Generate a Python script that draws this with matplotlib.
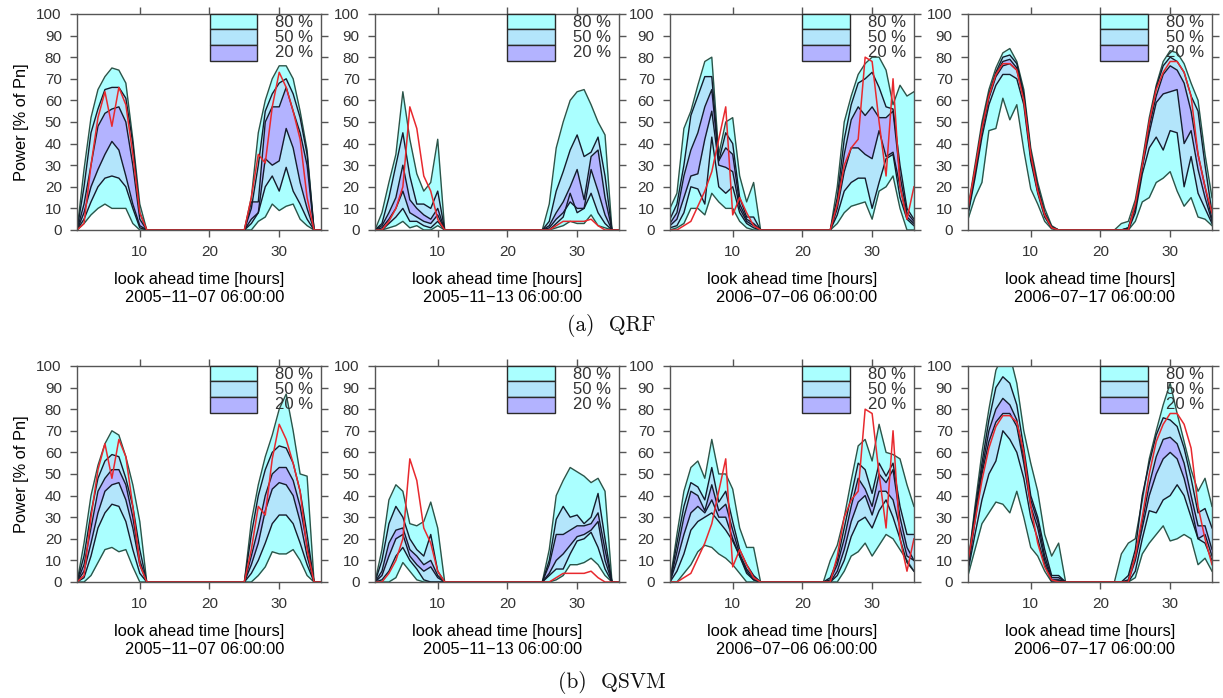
import matplotlib
matplotlib.use("Agg")
import matplotlib.pyplot as plt
from matplotlib.patches import Rectangle

plt.rcParams['font.family'] = ['Liberation Sans', 'DejaVu Sans']
plt.rcParams['text.color'] = '#333333'

# look ahead hours 1..36
# every series below: hours 1-14 | hours 15-22 (night) | hours 23-36
hours = list(range(1, 37))

# observed power, one series per forecast date
obs_1107 = [0, 3, 30, 52, 64, 48, 66, 58, 35, 8, 0, 0, 0, 0,  0, 0, 0, 0, 0, 0, 0, 0,  0, 0, 0, 15, 35, 31, 57, 73, 66, 55, 42, 15, 0, 0]
obs_1113 = [0, 0, 4, 10, 20, 57, 47, 25, 18, 5, 0, 0, 0, 0,  0, 0, 0, 0, 0, 0, 0, 0,  0, 0, 0, 0, 2, 4, 4, 4, 4, 5, 2, 0, 0, 0]
obs_0706 = [0, 0, 2, 4, 11, 18, 27, 42, 57, 7, 15, 8, 2, 0,  0, 0, 0, 0, 0, 0, 0, 0,  0, 0, 12, 30, 38, 42, 80, 78, 50, 25, 70, 20, 5, 20]
obs_0717 = [10, 28, 47, 62, 72, 77, 77, 74, 60, 35, 18, 7, 1, 0,  0, 0, 0, 0, 0, 0, 0, 0,  0, 0, 12, 30, 50, 65, 73, 78, 78, 73, 62, 35, 20, 8]

# QRF quantiles (10, 25, 40, 60, 75, 90 %)
qrf_1107_q10 = [0, 3, 7, 10, 12, 10, 10, 10, 3, 0, 0, 0, 0, 0,  0, 0, 0, 0, 0, 0, 0, 0,  0, 0, 0, 0, 4, 6, 12, 9, 11, 12, 5, 2, 0, 0]
qrf_1107_q25 = [0, 5, 13, 20, 24, 25, 24, 20, 10, 1, 0, 0, 0, 0,  0, 0, 0, 0, 0, 0, 0, 0,  0, 0, 0, 3, 8, 20, 25, 18, 29, 18, 12, 5, 0, 0]
qrf_1107_q40 = [0, 8, 20, 28, 35, 41, 37, 25, 12, 2, 0, 0, 0, 0,  0, 0, 0, 0, 0, 0, 0, 0,  0, 0, 0, 5, 8, 33, 30, 32, 47, 38, 22, 10, 0, 0]
qrf_1107_q60 = [0, 12, 30, 48, 54, 56, 57, 50, 30, 5, 0, 0, 0, 0,  0, 0, 0, 0, 0, 0, 0, 0,  0, 0, 0, 13, 13, 50, 57, 57, 66, 55, 45, 30, 0, 0]
qrf_1107_q75 = [0, 20, 45, 56, 65, 66, 66, 61, 40, 8, 0, 0, 0, 0,  0, 0, 0, 0, 0, 0, 0, 0,  0, 0, 0, 10, 30, 55, 63, 68, 70, 63, 52, 35, 0, 0]
qrf_1107_q90 = [0, 28, 52, 65, 71, 75, 74, 68, 42, 12, 0, 0, 0, 0,  0, 0, 0, 0, 0, 0, 0, 0,  0, 0, 0, 15, 45, 60, 70, 76, 76, 70, 55, 37, 0, 0]

qrf_1113_q10 = [0, 0, 1, 2, 4, 1, 2, 0, 0, 2, 0, 0, 0, 0,  0, 0, 0, 0, 0, 0, 0, 0,  0, 0, 0, 0, 1, 2, 4, 3, 3, 7, 2, 1, 0, 0]
qrf_1113_q25 = [0, 0, 3, 6, 10, 4, 4, 2, 1, 4, 0, 0, 0, 0,  0, 0, 0, 0, 0, 0, 0, 0,  0, 0, 0, 0, 3, 6, 17, 8, 10, 17, 8, 3, 0, 0]
qrf_1113_q40 = [0, 1, 5, 10, 18, 8, 6, 4, 3, 7, 0, 0, 0, 0,  0, 0, 0, 0, 0, 0, 0, 0,  0, 0, 0, 1, 5, 8, 13, 10, 10, 28, 18, 7, 0, 0]
qrf_1113_q60 = [0, 2, 8, 15, 30, 14, 10, 7, 5, 10, 0, 0, 0, 0,  0, 0, 0, 0, 0, 0, 0, 0,  0, 0, 0, 2, 8, 13, 20, 28, 14, 34, 37, 15, 0, 0]
qrf_1113_q75 = [0, 3, 15, 30, 45, 25, 12, 12, 10, 18, 0, 0, 0, 0,  0, 0, 0, 0, 0, 0, 0, 0,  0, 0, 0, 4, 18, 27, 37, 44, 34, 36, 43, 25, 0, 0]
qrf_1113_q90 = [0, 8, 22, 35, 64, 42, 26, 18, 22, 42, 0, 0, 0, 0,  0, 0, 0, 0, 0, 0, 0, 0,  0, 0, 0, 12, 38, 50, 60, 64, 65, 58, 50, 44, 0, 0]

qrf_0706_q10 = [0, 1, 3, 10, 10, 7, 17, 13, 10, 10, 4, 1, 0, 0,  0, 0, 0, 0, 0, 0, 0, 0,  0, 0, 3, 8, 11, 12, 13, 5, 18, 20, 25, 10, 0, 0]
qrf_0706_q25 = [1, 2, 8, 20, 19, 12, 43, 20, 17, 20, 8, 3, 1, 0,  0, 0, 0, 0, 0, 0, 0, 0,  0, 0, 7, 18, 22, 24, 24, 10, 22, 33, 35, 15, 5, 2]
qrf_0706_q40 = [2, 5, 15, 25, 26, 42, 55, 30, 29, 27, 10, 4, 2, 0,  0, 0, 0, 0, 0, 0, 0, 0,  0, 0, 10, 27, 38, 38, 35, 33, 46, 34, 36, 20, 6, 3]
qrf_0706_q60 = [3, 8, 25, 37, 45, 57, 65, 32, 38, 35, 12, 5, 3, 0,  0, 0, 0, 0, 0, 0, 0, 0,  0, 0, 12, 35, 51, 57, 53, 57, 52, 52, 55, 25, 8, 4]
qrf_0706_q75 = [5, 12, 30, 53, 62, 71, 71, 32, 45, 40, 15, 6, 6, 0,  0, 0, 0, 0, 0, 0, 0, 0,  0, 0, 15, 42, 58, 68, 70, 73, 66, 57, 56, 30, 10, 5]
qrf_0706_q90 = [10, 17, 47, 55, 67, 78, 80, 35, 50, 52, 25, 13, 22, 0,  0, 0, 0, 0, 0, 0, 0, 0,  0, 0, 20, 50, 62, 72, 77, 80, 80, 74, 58, 67, 62, 64]

qrf_0717_q10 = [5, 15, 22, 46, 47, 61, 51, 58, 37, 19, 12, 4, 0.5, 0,  0, 0, 0, 0, 0, 0, 0, 0,  0, 0, 4, 13, 15, 22, 24, 27, 18, 11, 15, 6, 5, 2]
qrf_0717_q25 = [7, 24, 43, 58, 67, 72, 72, 70, 58, 32, 17, 6, 1, 0,  0, 0, 0, 0, 0, 0, 0, 0,  0, 0, 8, 26, 38, 43, 37, 46, 45, 20, 34, 17, 10, 3]
qrf_0717_q40 = [8, 26, 46, 61, 71, 76, 77, 74, 61, 34, 18, 7, 1, 0,  0, 0, 0, 0, 0, 0, 0, 0,  0, 0.5, 10, 29, 45, 59, 63, 64, 65, 40, 46, 28, 15, 4]
qrf_0717_q60 = [8, 27, 47, 62, 72, 78, 79, 75, 62, 35, 19, 7, 1, 0,  0, 0, 0, 0, 0, 0, 0, 0,  0, 1, 11, 30, 48, 62, 72, 76, 74, 68, 55, 35, 20, 5]
qrf_0717_q75 = [9, 28, 48, 63, 73, 80, 81, 77, 63, 36, 20, 8, 1.5, 0,  0, 0, 0, 0, 0, 0, 0, 0,  0, 1, 12, 30, 50, 66, 76, 80, 78, 73, 62, 55, 30, 8]
qrf_0717_q90 = [10, 30, 50, 65, 75, 82, 84, 78, 65, 38, 22, 10, 2, 0,  0, 0, 0, 0, 0, 0, 0, 0,  3, 4, 14, 32, 52, 67, 78, 83, 82, 77, 68, 60, 35, 15]

# QSVM quantiles (10, 25, 40, 60, 75, 90 %)
qsvm_1107_q10 = [0, 0, 3, 9, 15, 16, 14, 15, 7, 0, 0, 0, 0, 0,  0, 0, 0, 0, 0, 0, 0, 0,  0, 0, 0, 0, 3, 7, 14, 13, 13, 15, 10, 3, 0, 0]
qsvm_1107_q25 = [0, 2, 12, 25, 32, 36, 35, 28, 15, 4, 0, 0, 0, 0,  0, 0, 0, 0, 0, 0, 0, 0,  0, 0, 0, 4, 10, 18, 27, 31, 31, 27, 18, 8, 0, 0]
qsvm_1107_q40 = [0, 5, 18, 32, 42, 45, 46, 38, 25, 8, 0, 0, 0, 0,  0, 0, 0, 0, 0, 0, 0, 0,  0, 0, 0, 8, 18, 33, 43, 46, 45, 40, 28, 12, 0, 0]
qsvm_1107_q60 = [0, 8, 25, 42, 48, 52, 52, 45, 30, 10, 0, 0, 0, 0,  0, 0, 0, 0, 0, 0, 0, 0,  0, 0, 0, 12, 25, 40, 50, 53, 53, 47, 35, 17, 0, 0]
qsvm_1107_q75 = [0, 12, 32, 48, 56, 59, 58, 48, 35, 15, 0, 0, 0, 0,  0, 0, 0, 0, 0, 0, 0, 0,  0, 0, 0, 22, 40, 52, 60, 63, 62, 55, 42, 22, 0, 0]
qsvm_1107_q90 = [0, 18, 40, 54, 64, 70, 68, 58, 45, 28, 0, 0, 0, 0,  0, 0, 0, 0, 0, 0, 0, 0,  0, 0, 0, 28, 45, 58, 68, 80, 87, 70, 50, 49, 0, 0]

qsvm_1113_q10 = [0, 0, 0, 2, 9, 5, 1, 0, 0, 0, 0, 0, 0, 0,  0, 0, 0, 0, 0, 0, 0, 0,  0, 0, 0, 0, 1, 3, 8, 8, 9, 11, 8, 3, 0, 0]
qsvm_1113_q25 = [0, 1, 5, 12, 16, 10, 6, 1, 0, 0, 0, 0, 0, 0,  0, 0, 0, 0, 0, 0, 0, 0,  0, 0, 0, 3, 6, 6, 13, 19, 20, 23, 16, 6, 0, 0]
qsvm_1113_q40 = [0, 3, 12, 20, 22, 12, 8, 5, 7, 2, 0, 0, 0, 0,  0, 0, 0, 0, 0, 0, 0, 0,  0, 0, 0, 4, 10, 13, 17, 21, 22, 24, 28, 10, 0, 0]
qsvm_1113_q60 = [0, 5, 18, 24, 25, 15, 12, 8, 10, 3, 0, 0, 0, 0,  0, 0, 0, 0, 0, 0, 0, 0,  0, 0, 0, 8, 22, 22, 24, 26, 26, 27, 32, 15, 0, 0]
qsvm_1113_q75 = [0, 10, 27, 35, 30, 20, 15, 12, 22, 5, 0, 0, 0, 0,  0, 0, 0, 0, 0, 0, 0, 0,  0, 0, 0, 10, 29, 35, 30, 31, 27, 30, 41, 20, 0, 0]
qsvm_1113_q90 = [0, 15, 38, 45, 42, 27, 26, 28, 37, 25, 0, 0, 0, 0,  0, 0, 0, 0, 0, 0, 0, 0,  0, 0, 0, 15, 40, 47, 53, 51, 49, 46, 48, 42, 0, 0]

qsvm_0706_q10 = [0, 0, 4, 8, 14, 17, 16, 13, 11, 8, 4, 0, 0, 0,  0, 0, 0, 0, 0, 0, 0, 0,  0, 0, 0, 5, 12, 14, 18, 12, 17, 22, 20, 15, 10, 5]
qsvm_0706_q25 = [0, 5, 13, 24, 28, 30, 32, 28, 24, 19, 12, 4, 1, 0,  0, 0, 0, 0, 0, 0, 0, 0,  0, 0, 3, 10, 21, 28, 30, 25, 33, 38, 30, 20, 9, 5]
qsvm_0706_q40 = [0, 10, 22, 32, 35, 32, 38, 30, 30, 20, 12, 5, 1, 0,  0, 0, 0, 0, 0, 0, 0, 0,  0, 0, 5, 15, 28, 37, 40, 31, 42, 42, 38, 25, 12, 10]
qsvm_0706_q60 = [0, 14, 30, 42, 40, 33, 45, 33, 36, 24, 13, 6, 2, 0,  0, 0, 0, 0, 0, 0, 0, 0,  0, 1, 8, 20, 35, 48, 43, 35, 50, 46, 52, 30, 16, 10]
qsvm_0706_q75 = [0, 18, 35, 46, 44, 38, 53, 37, 42, 28, 15, 8, 3, 0,  0, 0, 0, 0, 0, 0, 0, 0,  0, 2, 10, 25, 40, 55, 52, 41, 55, 49, 55, 35, 22, 22]
qsvm_0706_q90 = [0, 22, 42, 53, 56, 48, 66, 50, 50, 43, 25, 16, 16, 0,  0, 0, 0, 0, 0, 0, 0, 0,  0, 10, 17, 30, 47, 63, 66, 56, 73, 60, 59, 57, 45, 35]

qsvm_0717_q10 = [3, 15, 27, 32, 37, 36, 32, 42, 30, 16, 12, 5, 0, 0,  0, 0, 0, 0, 0, 0, 0, 0,  0, 0, 2, 13, 18, 22, 26, 19, 20, 22, 20, 8, 11, 5]
qsvm_0717_q25 = [5, 22, 38, 50, 56, 70, 66, 60, 48, 30, 20, 8, 0.5, 0.5,  0, 0, 0, 0, 0, 0, 0, 0,  0, 0, 5, 20, 33, 32, 38, 40, 45, 40, 30, 20, 18, 10]
qsvm_0717_q40 = [6, 28, 50, 65, 74, 78, 78, 72, 55, 35, 25, 10, 1, 1,  0, 0, 0, 0, 0, 0, 0, 0,  0, 0.5, 10, 25, 40, 50, 57, 60, 57, 48, 35, 20, 22, 12]
qsvm_0717_q60 = [7, 30, 52, 70, 80, 85, 82, 75, 58, 38, 28, 12, 2, 2,  0, 0, 0, 0, 0, 0, 0, 0,  0, 1, 12, 28, 45, 58, 66, 67, 64, 55, 40, 26, 26, 15]
qsvm_0717_q75 = [8, 33, 55, 75, 90, 95, 92, 82, 62, 40, 30, 15, 3, 3,  0, 0, 0, 0, 0, 0, 0, 0,  0, 3, 15, 40, 55, 68, 76, 75, 72, 62, 48, 32, 34, 25]
qsvm_0717_q90 = [8, 35, 60, 80, 98, 105, 105, 92, 70, 55, 42, 22, 12, 18,  0, 0, 0, 0, 0, 0, 0, 0,  13, 18, 20, 38, 57, 70, 82, 92, 78, 65, 52, 42, 48, 35]

dates = ["2005\u221211\u221207 06:00:00", "2005\u221211\u221213 06:00:00",
         "2006\u221207\u221206 06:00:00", "2006\u221207\u221217 06:00:00"]
observed = [obs_1107, obs_1113, obs_0706, obs_0717]

qrf = [
    (qrf_1107_q10, qrf_1107_q25, qrf_1107_q40, qrf_1107_q60, qrf_1107_q75, qrf_1107_q90),
    (qrf_1113_q10, qrf_1113_q25, qrf_1113_q40, qrf_1113_q60, qrf_1113_q75, qrf_1113_q90),
    (qrf_0706_q10, qrf_0706_q25, qrf_0706_q40, qrf_0706_q60, qrf_0706_q75, qrf_0706_q90),
    (qrf_0717_q10, qrf_0717_q25, qrf_0717_q40, qrf_0717_q60, qrf_0717_q75, qrf_0717_q90),
]
qsvm = [
    (qsvm_1107_q10, qsvm_1107_q25, qsvm_1107_q40, qsvm_1107_q60, qsvm_1107_q75, qsvm_1107_q90),
    (qsvm_1113_q10, qsvm_1113_q25, qsvm_1113_q40, qsvm_1113_q60, qsvm_1113_q75, qsvm_1113_q90),
    (qsvm_0706_q10, qsvm_0706_q25, qsvm_0706_q40, qsvm_0706_q60, qsvm_0706_q75, qsvm_0706_q90),
    (qsvm_0717_q10, qsvm_0717_q25, qsvm_0717_q40, qsvm_0717_q60, qsvm_0717_q75, qsvm_0717_q90),
]

band_labels = ["80 %", "50 %", "20 %"]
C80, C50, C20 = '#aaffff', '#b3e5fb', '#b3b3ff'
OUTER, INNER, RED = '#2b5448', '#141c2c', '#e8292e'
AXCOL = '#555555'


def draw_panel(ax, bands, obs, date, first):
    q10, q25, q40, q60, q75, q90 = bands
    ax.fill_between(hours, q10, q90, color=C80, lw=0)
    ax.fill_between(hours, q25, q75, color=C50, lw=0)
    ax.fill_between(hours, q40, q60, color=C20, lw=0)
    for q in (q10, q90):
        ax.plot(hours, q, color=OUTER, lw=1.0)
    for q in (q25, q75, q40, q60):
        ax.plot(hours, q, color=INNER, lw=1.0)
    ax.plot(hours, obs, color=RED, lw=1.1)

    ax.set_xlim(1, 36)
    ax.set_ylim(0, 100)
    ax.set_xticks([10, 20, 30])
    ax.set_yticks(range(0, 101, 10))
    ax.tick_params(direction='out', top=True, right=True, length=5, width=1,
                   color=AXCOL, labelcolor='#333333', labelsize=11, pad=6)
    for s in ax.spines.values():
        s.set_color(AXCOL)
        s.set_linewidth(1.0)

    ax.set_xlabel("look ahead time [hours]\n" + date, fontsize=11.8,
                  multialignment='right', labelpad=9, linespacing=1.25)
    if first:
        ax.set_ylabel("Power [% of Pn]", fontsize=11.8, labelpad=5)

    # key for the interval bands
    tops = [1.0, 0.93, 0.855]
    bots = [0.93, 0.855, 0.78]
    for col, t, b, lab, ty in zip((C80, C50, C20), tops, bots, band_labels, (0.96, 0.89, 0.82)):
        ax.add_patch(Rectangle((0.543, b), 0.193, t - b, transform=ax.transAxes,
                               fc=col, ec='#2a2a2a', lw=1.0, zorder=5, clip_on=False))
        ax.text(0.81, ty, lab, transform=ax.transAxes, fontsize=12,
                ha='left', va='center', zorder=6)


fig = plt.figure(figsize=(12.23, 6.98), dpi=100)
lefts = [0.0630, 0.3066, 0.5478, 0.7915]
width = 0.1995
height = 0.3095
for row, (data, y0) in enumerate(((qrf, 0.6705), (qsvm, 0.1662))):
    for i in range(4):
        ax = fig.add_axes([lefts[i], y0, width, height])
        draw_panel(ax, data[i], observed[i], dates[i], i == 0)

fig.text(0.5, 0.533, "(a)  QRF", ha='center', va='center', fontsize=15.5,
         family=['cmr10', 'DejaVu Serif'], color='#111111')
fig.text(0.5, 0.0215, "(b)  QSVM", ha='center', va='center', fontsize=15.5,
         family=['cmr10', 'DejaVu Serif'], color='#111111')

fig.savefig("out.png", dpi=100)
